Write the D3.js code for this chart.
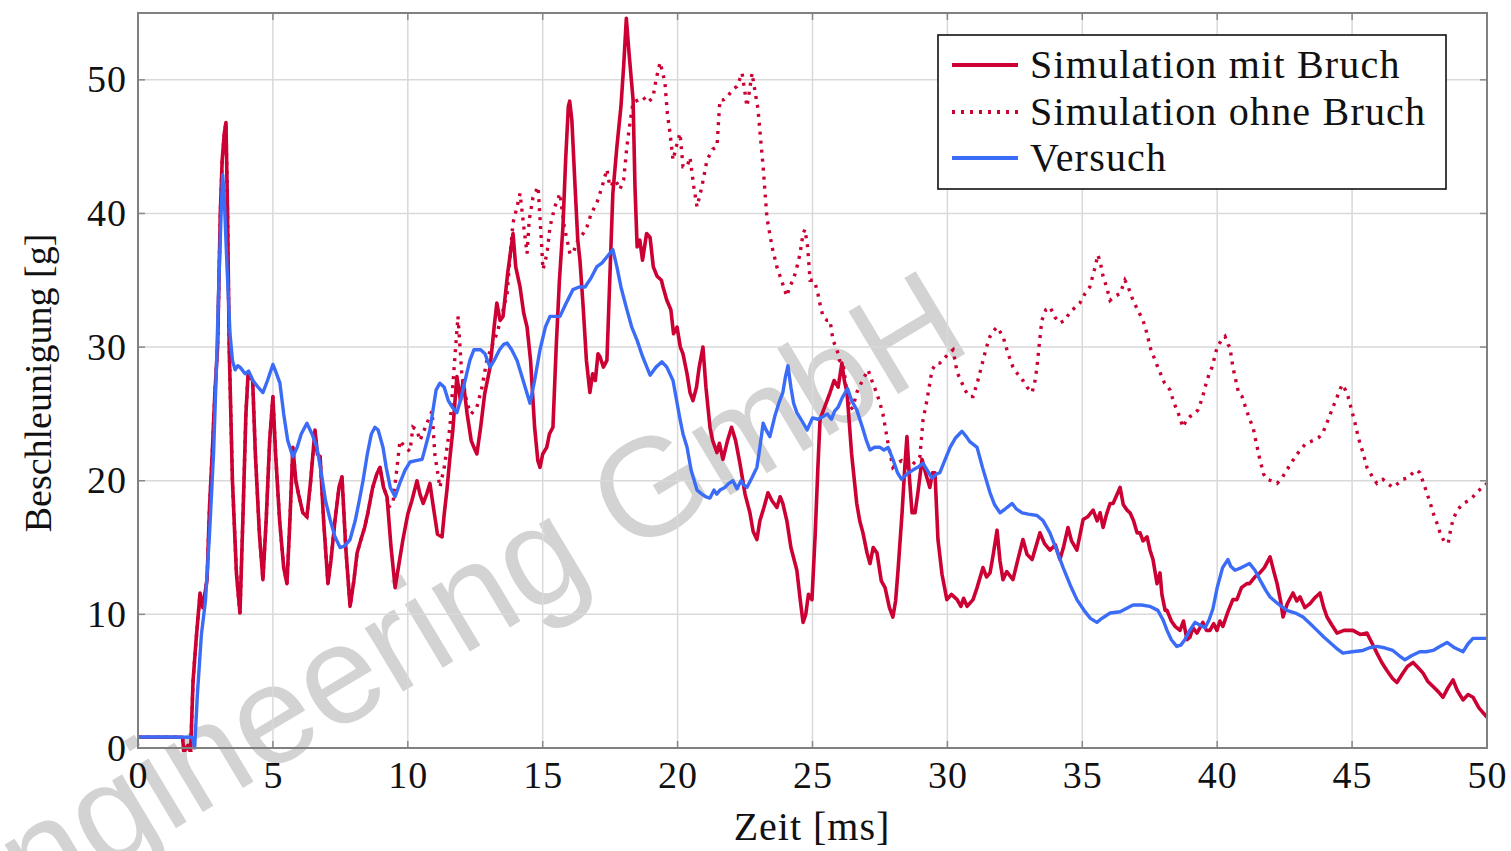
<!DOCTYPE html>
<html><head><meta charset="utf-8">
<script src="https://cdn.jsdelivr.net/npm/d3@7"></script>
<style>
html,body{margin:0;padding:0;background:#fff;}
svg{display:block;}
text{font-family:"Liberation Serif","DejaVu Serif",serif;}
</style></head>
<body>
<svg id="chart" width="1511" height="851"></svg>
<script>
// ---- data ----
const xTicks = [0,5,10,15,20,25,30,35,40,45,50];
const yTicks = [0,10,20,30,40,50];
const seriesNames = ["Simulation mit Bruch","Simulation ohne Bruch","Versuch"];
const xLabel = "Zeit [ms]";
const yLabel = "Beschleunigung [g]";

// shared start of both simulations (until ~9.2 ms)
const simStart = [[0,0.8],[1.0,0.8],[1.65,0.8],[1.7,-0.3],[1.85,0.2],[1.95,-0.3],[2.04,5],[2.15,8],[2.3,11.6],[2.4,10.5],[2.56,12.6],[2.65,18],[2.75,22],[2.85,26.6],[2.95,30],[3.05,40],[3.12,44],[3.2,46],[3.26,46.8],[3.32,40],[3.38,30],[3.5,20],[3.65,13],[3.78,10.1],[3.9,18],[4.0,25],[4.08,28],[4.15,27.8],[4.25,27.5],[4.35,22],[4.5,16],[4.63,12.6],[4.75,17],[4.88,23],[5.0,26.3],[5.1,22],[5.25,17],[5.4,13.5],[5.52,12.3],[5.63,17],[5.74,22.5],[5.85,20],[5.95,19],[6.11,17.6],[6.26,17.3],[6.4,20],[6.56,23.8],[6.65,22],[6.75,21.8],[6.88,17],[7.04,12.3],[7.15,14],[7.3,17],[7.45,19.5],[7.56,20.3],[7.7,15],[7.86,10.6],[8.0,12.5],[8.12,14.6],[8.25,15.5],[8.4,16.5],[8.52,17.6],[8.7,19.5],[8.85,20.5],[8.97,21],[9.1,19.5],[9.23,18.8]];

const simMitBruchRest = [[9.38,15],[9.53,12],[9.65,13.5],[9.82,15.6],[10.0,17.5],[10.15,18.5],[10.34,20],[10.45,19],[10.57,18.3],[10.7,19],[10.82,19.8],[10.95,18],[11.1,16],[11.27,15.8],[11.35,17.5],[11.45,19.3],[11.55,21.5],[11.67,23.8],[11.75,26],[11.82,27.8],[11.95,26],[12.05,27.5],[12.2,25],[12.35,23],[12.45,22.5],[12.56,22],[12.7,24],[12.85,26.5],[13.05,28.5],[13.2,31.5],[13.3,33.3],[13.42,32],[13.53,32.3],[13.7,35.5],[13.8,37],[13.9,38.5],[14.0,36],[14.16,34.5],[14.3,32.5],[14.42,31.5],[14.55,29],[14.7,24],[14.82,21.5],[14.9,21],[15.0,22],[15.15,22.5],[15.25,23.5],[15.38,24],[15.5,30],[15.62,35],[15.75,39],[15.85,44],[15.95,48],[16.0,48.4],[16.08,47],[16.2,42],[16.3,38],[16.38,36.5],[16.5,33],[16.62,29],[16.75,26.6],[16.85,28],[16.95,27.5],[17.05,29.5],[17.12,29.3],[17.25,28.5],[17.38,29],[17.45,33],[17.52,37],[17.6,41.5],[17.75,45],[17.9,48],[18.0,51],[18.1,54.6],[18.2,52],[18.35,48.5],[18.42,42],[18.5,37.5],[18.6,38],[18.7,36.5],[18.85,38.5],[18.98,38.2],[19.1,36],[19.24,35.3],[19.4,35],[19.46,34.5],[19.6,33.5],[19.75,32.8],[19.85,31],[19.98,31.5],[20.1,30],[20.2,29.5],[20.35,28],[20.46,26.6],[20.57,26],[20.7,27],[20.8,28.5],[20.94,30],[21.05,27],[21.2,24],[21.3,23],[21.46,22.1],[21.55,22.8],[21.68,21.6],[21.85,23],[22.0,24],[22.15,23],[22.31,21.3],[22.5,19],[22.68,17.6],[22.8,16.2],[22.94,15.6],[23.05,17],[23.2,18],[23.35,19.1],[23.5,18.5],[23.68,18],[23.8,18.8],[23.9,18.3],[24.05,17],[24.2,15],[24.42,13.3],[24.55,11],[24.65,9.4],[24.75,10],[24.85,11.5],[24.98,11.1],[25.1,16],[25.2,21],[25.28,24.6],[25.45,25.5],[25.65,26.6],[25.8,27.5],[25.95,27],[26.09,28.8],[26.18,27.5],[26.28,26.6],[26.45,22],[26.64,18.3],[26.75,17],[26.87,16.1],[27.02,14.6],[27.13,13.8],[27.25,15],[27.39,14.6],[27.55,12.5],[27.69,12],[27.85,10.5],[27.98,9.8],[28.08,11],[28.17,13.3],[28.32,17.6],[28.42,21],[28.5,23.3],[28.6,20],[28.69,17.6],[28.8,17.6],[28.9,19],[29.06,21.6],[29.2,20.5],[29.35,19.5],[29.45,20.6],[29.54,20.6],[29.65,15.6],[29.8,13],[29.98,11.1],[30.15,11.5],[30.36,11.1],[30.5,10.6],[30.6,11.2],[30.73,10.6],[30.95,11.1],[31.1,12],[31.32,13.5],[31.45,12.8],[31.58,13.1],[31.7,14.5],[31.84,16.3],[31.95,14],[32.06,12.6],[32.2,13.2],[32.43,12.6],[32.6,14],[32.8,15.6],[32.95,14.5],[33.14,14.1],[33.3,15.2],[33.43,16.1],[33.6,15.3],[33.8,14.8],[34.0,15.2],[34.17,14.1],[34.3,15],[34.47,16.5],[34.6,15.5],[34.8,14.8],[34.92,16],[35.03,17.1],[35.2,17.3],[35.4,17.8],[35.55,17],[35.66,17.6],[35.77,16.5],[35.9,17.5],[36.03,18.3],[36.14,18.3],[36.25,18.8],[36.4,19.5],[36.52,18.2],[36.66,17.8],[36.77,17.6],[36.9,17],[37.03,16.1],[37.14,16.1],[37.25,15.5],[37.4,15.8],[37.51,14.8],[37.62,14.1],[37.77,12.3],[37.88,13.1],[37.95,11.5],[38.07,10.3],[38.14,10.3],[38.3,9.5],[38.44,9.1],[38.62,8.8],[38.75,9.5],[38.88,8.1],[38.99,8.3],[39.1,9],[39.25,8.6],[39.47,9.4],[39.6,8.8],[39.73,8.8],[39.87,9.3],[39.99,8.8],[40.1,9.5],[40.21,9.1],[40.4,10.2],[40.58,11.1],[40.73,11.1],[40.9,12],[41.1,12.3],[41.2,12.3],[41.4,12.8],[41.58,13.1],[41.75,13.5],[41.96,14.3],[42.1,13.2],[42.22,12.3],[42.35,11],[42.44,9.8],[42.6,10.8],[42.81,11.6],[42.95,11],[43.07,11.3],[43.25,10.5],[43.44,10.8],[43.6,11.2],[43.81,11.6],[43.95,10.5],[44.07,9.8],[44.25,9.2],[44.44,8.6],[44.7,8.8],[45.03,8.8],[45.3,8.5],[45.55,8.6],[45.75,7.8],[45.92,7.1],[46.1,6.4],[46.29,5.8],[46.5,5.2],[46.66,4.9],[46.88,5.6],[47.05,6.1],[47.26,6.4],[47.45,6],[47.63,5.6],[47.8,5],[48.0,4.6],[48.2,4.2],[48.37,3.8],[48.55,4.5],[48.74,5.1],[48.9,4.3],[49.11,3.6],[49.3,4],[49.48,3.8],[49.7,3],[50,2.3]];

const simOhneBruchRest = [[9.27,18],[9.45,18.3],[9.6,21],[9.71,23],[9.9,22.5],[10.08,22.2],[10.19,24],[10.34,23.8],[10.45,23],[10.57,23.6],[10.75,24.5],[10.9,25.2],[11.0,22],[11.19,19.5],[11.35,21],[11.56,24],[11.7,28],[11.86,32.3],[12.0,28],[12.19,25.8],[12.35,25],[12.56,25.5],[12.75,27],[12.93,29],[13.1,30],[13.3,31],[13.5,32.5],[13.68,34],[13.8,37],[13.9,39.3],[14.05,40.5],[14.16,41.5],[14.3,39],[14.42,37],[14.5,39.5],[14.64,41.2],[14.83,42],[14.95,38],[15.01,35.8],[15.16,37],[15.27,39],[15.45,40.5],[15.64,41.5],[15.8,39],[16.01,37],[16.12,37],[16.3,38],[16.5,38.5],[16.64,39],[16.8,40],[17.01,40.8],[17.2,42],[17.38,43.3],[17.49,42],[17.7,42.5],[17.86,41.8],[18.0,42.5],[18.12,45],[18.25,47],[18.35,48.3],[18.55,48.5],[18.72,48.7],[18.9,48.3],[19.09,48.7],[19.2,50],[19.35,51.3],[19.45,50.5],[19.53,49.8],[19.62,47.5],[19.72,46],[19.83,44],[19.95,45],[20.09,46],[20.2,43.5],[20.35,43.5],[20.46,44.2],[20.6,42],[20.72,40.5],[20.9,42],[21.09,44],[21.3,44.8],[21.46,45],[21.52,47],[21.57,48.5],[21.7,48.5],[21.83,48.7],[22.05,49.3],[22.2,49.5],[22.39,50.5],[22.5,49],[22.57,48],[22.65,49],[22.76,50.5],[22.88,49],[22.98,47.8],[23.08,45.5],[23.17,43.5],[23.31,39.7],[23.5,37.5],[23.68,36],[23.85,35],[24.05,33.8],[24.15,34.5],[24.28,35],[24.4,35.8],[24.54,37],[24.65,38.5],[24.72,38.8],[24.82,37.5],[24.91,35],[25.05,35],[25.17,34.3],[25.3,33],[25.39,32.3],[25.54,32],[25.65,32],[25.76,30.5],[25.91,29.8],[26.0,29],[26.13,28.8],[26.25,27],[26.39,25.3],[26.5,25.5],[26.64,26.6],[26.85,27.5],[27.06,28.3],[27.2,27.5],[27.39,26.5],[27.5,25.8],[27.61,25],[27.8,22.8],[27.98,21],[28.13,21.3],[28.3,21.5],[28.5,21],[28.7,21.2],[28.85,21.5],[28.98,21.8],[29.1,24.6],[29.24,26],[29.43,28.3],[29.6,28.8],[29.72,28.8],[29.9,29.2],[30.1,29.6],[30.21,29.8],[30.36,28.1],[30.5,27.5],[30.65,26.8],[30.8,26.3],[30.95,26.3],[31.13,27.5],[31.32,29],[31.45,30],[31.58,30.8],[31.7,31.2],[31.84,31.5],[32.06,30.8],[32.25,29.5],[32.43,28.5],[32.6,28],[32.8,27.5],[32.95,27],[33.14,26.6],[33.25,27.5],[33.32,28.5],[33.42,30.5],[33.5,32],[33.65,32.8],[33.8,33],[34.0,32.2],[34.17,31.8],[34.35,32],[34.54,32.6],[34.75,33],[34.91,33.3],[35.1,34],[35.28,34.5],[35.45,35.8],[35.58,36.9],[35.68,36.2],[35.77,35.3],[35.9,34.5],[36.03,33.5],[36.2,33.8],[36.4,34],[36.58,35],[36.7,34.5],[36.88,33.5],[37.05,32.8],[37.25,32],[37.4,31],[37.51,30],[37.7,29],[37.88,28.1],[38.05,27.3],[38.25,26.8],[38.4,25.8],[38.55,25.1],[38.73,24],[38.85,24.5],[38.99,24.8],[39.15,25],[39.29,25.3],[39.45,26.2],[39.55,27],[39.7,28],[39.81,28.5],[40.0,30],[40.15,30.5],[40.29,30.8],[40.4,30.2],[40.47,30],[40.58,28.5],[40.66,27.8],[40.8,26.5],[40.92,26.3],[41.05,25.5],[41.2,24.6],[41.33,24],[41.45,22.8],[41.58,21.6],[41.72,20.5],[41.84,20.1],[42.0,20],[42.22,19.8],[42.4,20.2],[42.58,20.8],[42.8,21.5],[43.07,22.3],[43.3,22.8],[43.55,23],[43.75,23.2],[43.92,23.6],[44.1,24.5],[44.29,25.5],[44.45,26.3],[44.63,27.2],[44.75,26.8],[44.85,26.3],[44.98,25.3],[45.11,24.3],[45.2,23.5],[45.29,22.8],[45.42,22],[45.55,21],[45.75,20.3],[45.92,19.8],[46.14,20.1],[46.3,19.8],[46.51,19.5],[46.7,19.8],[46.88,20.1],[47.05,20.2],[47.26,20.6],[47.4,20.8],[47.51,20.6],[47.65,19.8],[47.77,19.1],[47.9,18.3],[48.0,17.6],[48.15,16.8],[48.26,16.1],[48.4,15.5],[48.56,15.3],[48.65,16.3],[48.74,17.1],[48.9,17.8],[49.11,18.3],[49.3,18.5],[49.48,18.8],[49.65,19.2],[49.85,19.5],[50,19.8]];

const versuch = [[0,0.82],[1.0,0.82],[2.0,0.8],[2.04,0.6],[2.1,0],[2.2,4],[2.35,8.5],[2.5,11],[2.65,16],[2.8,22],[2.9,28],[3.0,35],[3.08,40],[3.14,42.9],[3.2,41],[3.3,36],[3.41,31],[3.5,29],[3.6,28.3],[3.7,28.6],[3.78,28.5],[3.97,28],[4.1,28.2],[4.26,27.5],[4.45,27],[4.63,26.6],[4.8,27.5],[5.0,28.7],[5.1,28.2],[5.26,27.3],[5.4,25],[5.55,23],[5.74,21.8],[5.9,22.5],[6.05,23.5],[6.26,24.3],[6.45,23.5],[6.63,22.5],[6.8,20.5],[6.95,18.5],[7.12,17.1],[7.3,15.8],[7.49,15],[7.65,15.1],[7.86,15.6],[8.05,17],[8.2,18.5],[8.34,20],[8.5,22],[8.65,23.5],[8.78,24],[8.9,23.8],[9.08,22.5],[9.2,21],[9.35,19.5],[9.53,18.8],[9.7,19.8],[9.9,20.8],[10.08,21.4],[10.3,21.5],[10.53,21.6],[10.65,22.5],[10.82,23.8],[10.95,25.5],[11.05,26.8],[11.19,27.3],[11.35,27],[11.5,26],[11.65,25.5],[11.82,25.1],[11.95,26],[12.1,27.3],[12.3,29],[12.45,29.8],[12.56,29.8],[12.7,29.8],[12.86,29.5],[12.95,29],[13.05,28.5],[13.2,29],[13.4,29.8],[13.55,30.2],[13.68,30.3],[13.85,29.8],[14.05,29],[14.2,28],[14.35,27],[14.53,25.8],[14.7,27.5],[14.9,29.8],[15.1,31.5],[15.27,32.3],[15.45,32.3],[15.64,32.3],[15.85,33.2],[16.12,34.3],[16.35,34.5],[16.57,34.5],[16.8,35.2],[17.0,36],[17.2,36.3],[17.4,36.8],[17.6,37.3],[17.75,36],[17.9,34.5],[18.12,32.8],[18.3,31.5],[18.5,30.5],[18.7,29.3],[18.98,27.9],[19.2,28.5],[19.42,28.9],[19.6,28.5],[19.83,27.5],[20.09,24.6],[20.2,23.5],[20.35,22.5],[20.5,20.8],[20.72,19.3],[20.9,19],[21.05,18.8],[21.2,18.7],[21.35,19.3],[21.45,19],[21.57,19.3],[21.75,19.5],[21.9,19.8],[22.05,20],[22.2,19.4],[22.35,20],[22.45,19.7],[22.57,19.5],[22.75,20.2],[22.94,21],[23.05,22.5],[23.17,24.3],[23.28,23.8],[23.42,23.3],[23.6,24.8],[23.75,25.8],[23.9,26.6],[24.0,27.8],[24.09,28.6],[24.2,27],[24.3,25.8],[24.42,25.1],[24.6,24.5],[24.8,23.8],[25.0,24.7],[25.2,24.6],[25.39,24.8],[25.55,25],[25.7,24.6],[25.82,25.2],[25.95,25.5],[26.1,26.2],[26.3,26.9],[26.45,26],[26.64,25.3],[26.85,24],[27.0,23],[27.13,22.3],[27.3,22.5],[27.5,22.5],[27.65,22.3],[27.8,22.5],[28.0,21.5],[28.15,20.6],[28.3,20.1],[28.5,20.5],[28.72,20.8],[28.9,21],[29.1,21.3],[29.25,20.8],[29.43,20.2],[29.6,20.5],[29.72,20.6],[29.9,21.5],[30.1,22.5],[30.3,23.2],[30.54,23.7],[30.7,23.3],[30.84,22.9],[31.1,22.5],[31.3,21],[31.58,19.1],[31.75,18.2],[31.95,17.6],[32.15,17.9],[32.4,18.3],[32.55,17.9],[32.77,17.6],[33.0,17.5],[33.32,17.4],[33.55,17],[33.8,16.1],[34.05,14.8],[34.29,13.5],[34.55,12.2],[34.8,11.1],[35.1,10.2],[35.3,9.7],[35.54,9.4],[35.66,9.6],[36.03,10.1],[36.4,10.2],[36.88,10.7],[37.2,10.7],[37.5,10.6],[37.8,10.3],[37.99,9.6],[38.14,8.8],[38.3,8.1],[38.5,7.6],[38.65,7.7],[38.8,8.1],[38.95,8.7],[39.18,9.4],[39.35,9.2],[39.55,9.0],[39.7,9.6],[39.84,10.4],[40.0,12],[40.2,13.5],[40.4,14.1],[40.5,13.6],[40.66,13.3],[40.9,13.5],[41.2,13.8],[41.4,13.3],[41.58,12.6],[41.8,11.8],[41.96,11.3],[42.25,10.8],[42.58,10.3],[42.9,10.1],[43.18,9.8],[43.45,9.3],[43.7,8.8],[43.95,8.3],[44.18,7.9],[44.4,7.5],[44.66,7.1],[45.0,7.2],[45.4,7.3],[45.65,7.5],[45.92,7.6],[46.2,7.5],[46.51,7.3],[46.75,6.9],[46.96,6.6],[47.2,6.9],[47.51,7.2],[47.75,7.2],[48.0,7.3],[48.25,7.6],[48.52,7.9],[48.8,7.5],[49.11,7.2],[49.3,7.8],[49.48,8.2],[49.75,8.2],[50,8.2]];

const simMitBruch = simStart.concat(simMitBruchRest);
const simOhneBruch = simStart.concat(simOhneBruchRest);

// ---- drawing ----
const svg = d3.select("#chart");
const L=138, R=1487, T=13, B=748;
const x = d3.scaleLinear().domain([0,50]).range([L,R]);
const y = d3.scaleLinear().domain([0,55]).range([B,T]);
const RED="#cc0033", BLUE="#3b6cf7";

// watermark (behind)
svg.append("text")
  .attr("transform","translate(975,348) rotate(-31)")
  .attr("text-anchor","end")
  .style("font-family","'Liberation Sans',Arial,sans-serif")
  .style("font-size","140px")
  .attr("fill","#d3d3d3")
  .text("Engineering GmbH");

// grid
const grid = svg.append("g");
grid.selectAll("line.gx").data(xTicks).join("line")
  .attr("x1",d=>x(d)).attr("x2",d=>x(d)).attr("y1",T).attr("y2",B)
  .attr("stroke","#d9d9d9").attr("stroke-width",1.5);
grid.selectAll("line.gy").data(yTicks).join("line")
  .attr("y1",d=>y(d)).attr("y2",d=>y(d)).attr("x1",L).attr("x2",R)
  .attr("stroke","#d9d9d9").attr("stroke-width",1.5);

// inner ticks on all sides
const tk = svg.append("g").attr("stroke","#8a8a8a").attr("stroke-width",1.5);
xTicks.forEach(d=>{
  tk.append("line").attr("x1",x(d)).attr("x2",x(d)).attr("y1",B).attr("y2",B-7);
  tk.append("line").attr("x1",x(d)).attr("x2",x(d)).attr("y1",T).attr("y2",T+7);
});
yTicks.forEach(d=>{
  tk.append("line").attr("y1",y(d)).attr("y2",y(d)).attr("x1",L).attr("x2",L+7);
  tk.append("line").attr("y1",y(d)).attr("y2",y(d)).attr("x1",R).attr("x2",R-7);
});

// lines
svg.append("clipPath").attr("id","clip").append("rect")
  .attr("x",L).attr("y",T-10).attr("width",R-L+2).attr("height",B-T+14);
const line = d3.line().x(d=>x(d[0])).y(d=>y(d[1]));
const lg = svg.append("g").attr("clip-path","url(#clip)");
lg.append("path").datum(simOhneBruch).attr("d",line).attr("fill","none")
  .attr("stroke",RED).attr("stroke-width",3.4).attr("stroke-dasharray","3,6");
lg.append("path").datum(simMitBruch).attr("d",line).attr("fill","none")
  .attr("stroke",RED).attr("stroke-width",3.6).attr("stroke-linejoin","round");
lg.append("path").datum(versuch).attr("d",line).attr("fill","none")
  .attr("stroke",BLUE).attr("stroke-width",3.4).attr("stroke-linejoin","round");

// frame
svg.append("rect").attr("x",L).attr("y",T).attr("width",R-L).attr("height",B-T)
  .attr("fill","none").attr("stroke","#808080").attr("stroke-width",2);

// axes labels via d3 axes
const ax = svg.append("g").attr("transform",`translate(0,${B})`)
  .call(d3.axisBottom(x).tickValues(xTicks).tickSize(0).tickPadding(13).tickFormat(d3.format("d")));
ax.select(".domain").remove();
ax.selectAll("text").style("font-size","38px").style("letter-spacing","1px").style("font-family","'Liberation Serif',serif").attr("fill","#111").attr("dy","0.72em");
const ay = svg.append("g").attr("transform",`translate(${L},0)`)
  .call(d3.axisLeft(y).tickValues(yTicks).tickSize(0).tickPadding(11).tickFormat(d3.format("d")));
ay.select(".domain").remove();
ay.selectAll("text").style("font-size","38px").style("letter-spacing","1px").style("font-family","'Liberation Serif',serif").attr("fill","#111");

svg.append("text").attr("x",812).attr("y",840).attr("text-anchor","middle")
  .style("font-size","40px").style("letter-spacing","1px").attr("fill","#111").text(xLabel);
svg.append("text").attr("transform","translate(51,383) rotate(-90)").attr("text-anchor","middle")
  .style("font-size","38px").attr("fill","#111").text(yLabel);

// legend
const leg = svg.append("g");
leg.append("rect").attr("x",938).attr("y",35).attr("width",508).attr("height",154)
  .attr("fill","#fff").attr("stroke","#111").attr("stroke-width",1.6);
const legY=[65,112,158];
const legStyle=[{c:RED,d:null},{c:RED,d:"3,6"},{c:BLUE,d:null}];
seriesNames.forEach((n,i)=>{
  leg.append("line").attr("x1",952).attr("x2",1018).attr("y1",legY[i]).attr("y2",legY[i])
    .attr("stroke",legStyle[i].c).attr("stroke-width",4).attr("stroke-dasharray",legStyle[i].d);
  leg.append("text").attr("x",1030).attr("y",legY[i]+13).style("font-size","40px")
    .style("letter-spacing","1.2px").attr("fill","#111").text(n);
});
</script>
</body></html>
